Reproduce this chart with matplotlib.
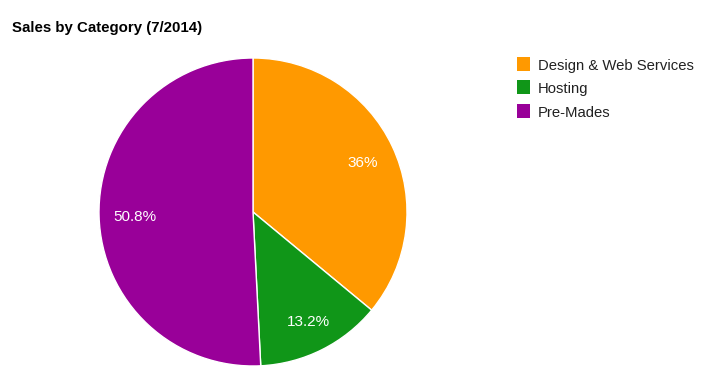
import matplotlib
matplotlib.use("Agg")
import matplotlib.pyplot as plt
from matplotlib.patches import Rectangle
from matplotlib.transforms import offset_copy

categories = ["Design & Web Services", "Hosting", "Pre-Mades"]
values = [36.0, 13.2, 50.8]
colors = ["#FF9900", "#109618", "#990099"]
title = "Sales by Category (7/2014)"

plt.rcParams['font.family'] = ['Liberation Sans', 'DejaVu Sans']

W, H = 706, 382
fig = plt.figure(figsize=(W / 100, H / 100), dpi=100)
fig.patch.set_facecolor("white")

cx, cy, r = 253, 212, 154
ax = fig.add_axes([(cx - r) / W, (H - cy - r) / H, 2 * r / W, 2 * r / H])
ax.set_aspect("equal")

def fmt(p):
    s = f"{p:.1f}"
    if s.endswith(".0"):
        s = s[:-2]
    return s + "%"

wedges, texts, autotexts = ax.pie(
    values, colors=colors, startangle=90, counterclock=False,
    autopct=fmt, pctdistance=0.78,
    wedgeprops=dict(edgecolor="white", linewidth=1),
    textprops=dict(color="white", fontsize=11),
    radius=1.0,
)
for t in autotexts:
    t.set_transform(offset_copy(t.get_transform(), fig=fig, x=1.5, y=-2.2, units='dots'))
ax.set_xlim(-1, 1)
ax.set_ylim(-1, 1)
ax.axis("off")

fig.text(12 / W, 1 - 28 / H, title, fontsize=10.8, fontweight="bold",
         ha="left", va="center", color="black")

row_y = [64, 87, 111]
for cat, col, y in zip(categories, colors, row_y):
    fig.patches.append(Rectangle(((517) / W, 1 - (y + 7) / H), 13 / W, 14 / H,
                                 transform=fig.transFigure, facecolor=col,
                                 edgecolor="none"))
    fig.text(538 / W, 1 - (y + 2) / H, cat, fontsize=10.75, ha="left", va="center",
             color="#222222")

fig.savefig("out.png", dpi=100)
